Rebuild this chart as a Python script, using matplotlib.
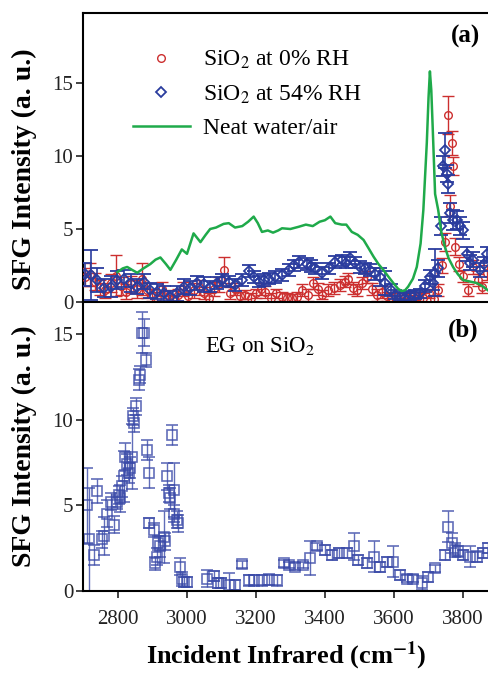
import matplotlib
matplotlib.use("Agg")
import matplotlib.pyplot as plt
from matplotlib.lines import Line2D

# ---------------- data ----------------
# Neat water/air (green line), panel (a)
water_x = [2800, 2815, 2828, 2842, 2857, 2875, 2895, 2910, 2924, 2940, 2953, 2970, 2986,
           3001, 3020, 3040, 3055, 3068, 3085, 3107, 3122, 3140, 3161, 3178, 3194, 3206,
           3218, 3235, 3250, 3265, 3276, 3300, 3324, 3345, 3365, 3385, 3400, 3416, 3430,
           3449, 3462, 3478, 3495, 3512, 3526, 3541, 3555, 3569, 3585, 3598, 3612, 3622,
           3632, 3641, 3655, 3666, 3677, 3685, 3695, 3700, 3704, 3708, 3712, 3719, 3728,
           3737, 3747, 3758, 3771, 3785, 3800, 3820, 3839, 3855, 3872]
water_y = [2.05, 2.3, 2.4, 2.2, 2.0, 2.3, 2.6, 2.9, 3.05, 2.6, 2.2, 2.9, 3.6,
           3.3, 4.7, 4.1, 4.6, 5.0, 5.1, 5.35, 5.4, 5.1, 5.2, 5.5, 5.85, 5.4,
           4.8, 4.9, 4.75, 4.9, 5.05, 5.0, 5.15, 5.3, 5.2, 5.5, 5.6, 5.85, 5.4,
           5.3, 5.3, 4.8, 4.6, 4.25, 3.7, 3.1, 2.6, 2.2, 1.7, 1.3, 0.9, 0.75,
           0.8, 1.05, 1.6, 2.4, 4.0, 6.3, 10.9, 14.0, 15.8, 14.5, 12.0, 7.4, 6.3,
           4.8, 3.8, 3.0, 2.4, 1.9, 1.5, 1.4, 1.3, 1.1, 0.8]

# SiO2 at 0% RH (red circles)
rh0_x = [2705, 2720, 2735, 2750, 2765, 2780, 2795, 2810, 2825, 2840, 2855, 2870, 2885,
         2900, 2915, 2930, 2945, 2960, 2975, 2990, 3005, 3020, 3035, 3050, 3065, 3080,
         3095, 3108, 3125, 3140, 3155, 3170, 3185, 3200, 3215, 3228, 3245, 3260, 3275,
         3290, 3305, 3320, 3335, 3350, 3367, 3380, 3392, 3410, 3425, 3444, 3458, 3468,
         3480, 3493, 3508, 3521, 3535, 3550, 3565, 3580, 3595, 3610, 3625, 3640, 3655,
         3670, 3685, 3700, 3715, 3728, 3740, 3748, 3755, 3762, 3768, 3772, 3778, 3788,
         3800, 3815, 3828, 3842, 3855, 3870]
rh0_y = [1.7, 1.9, 1.4, 1.0, 0.8, 1.3, 1.8, 1.1, 0.7, 1.2, 0.9, 1.6, 0.8,
         0.5, 0.3, 0.9, 0.4, 0.2, 0.5, 0.9, 0.4, 0.8, 1.0, 0.6, 0.3, 0.9,
         1.2, 2.2, 0.6, 0.9, 0.4, 0.5, 0.3, 0.6, 0.9, 0.7, 0.3, 0.6, 0.35,
         0.3, 0.25, 0.35, 0.8, 0.5, 1.3, 0.9, 0.5, 0.8, 0.95, 1.15, 1.4, 1.6,
         0.95, 0.8, 1.3, 1.7, 0.9, 0.5, 0.7, 0.4, 0.3, 0.2, 0.1, 0.3, 0.2,
         0.4, 0.3, 0.6, 0.2, 0.8, 2.5, 4.1, 12.8, 6.6, 10.9, 9.3, 3.8, 2.6,
         1.8, 0.8, 2.4, 1.5, 1.0, 2.0]
rh0_err = [0.6, 0.8, 0.6, 0.5, 0.5, 0.6, 1.4, 0.6, 0.5, 0.6, 0.6, 1.1, 0.5,
           0.4, 0.4, 0.5, 0.4, 0.3, 0.4, 0.5, 0.4, 0.5, 0.5, 0.4, 0.3, 0.5,
           0.5, 0.9, 0.4, 0.4, 0.3, 0.3, 0.3, 0.3, 0.4, 0.4, 0.3, 0.3, 0.3,
           0.3, 0.3, 0.3, 0.4, 0.4, 0.4, 0.4, 0.3, 0.4, 0.4, 0.4, 0.4, 0.4,
           0.4, 0.4, 0.4, 0.4, 0.4, 0.4, 0.4, 0.3, 0.3, 0.3, 0.2, 0.3, 0.3,
           0.3, 0.3, 0.3, 0.3, 0.4, 0.5, 0.6, 1.3, 0.7, 0.8, 0.6, 0.6, 0.5,
           0.4, 0.4, 0.5, 0.4, 0.4, 0.5]

# SiO2 at 54% RH (blue diamonds)
rh54_x = [2707, 2722, 2741, 2760, 2780, 2799, 2818, 2838, 2857, 2876, 2895, 2914, 2934,
          2953, 2972, 2991, 3011, 3030, 3049, 3069, 3088, 3102, 3122, 3141, 3160, 3180,
          3195, 3209, 3224, 3238, 3257, 3276, 3295, 3310, 3324, 3348, 3360, 3372, 3392,
          3411, 3430, 3449, 3460, 3473, 3488, 3502, 3516, 3531, 3545, 3560, 3575, 3590,
          3604, 3618, 3632, 3646, 3660, 3675, 3690, 3704, 3712, 3719, 3728, 3736, 3743,
          3748, 3753, 3757, 3762, 3770, 3781, 3790, 3800, 3810, 3820, 3829, 3848, 3860,
          3868]
rh54_y = [1.9, 1.85, 1.5, 0.95, 1.05, 1.5, 1.6, 1.3, 1.05, 1.4, 0.8, 0.7, 0.6,
          0.35, 0.6, 1.05, 0.95, 1.3, 1.2, 1.05, 1.3, 1.5, 1.4, 1.15, 1.5, 2.1,
          1.7, 1.4, 1.5, 1.6, 1.7, 1.85, 2.2, 2.5, 2.75, 2.6, 2.45, 2.3, 2.0,
          2.3, 2.75, 2.85, 2.7, 3.0, 2.7, 2.4, 2.3, 2.2, 1.9, 1.7, 1.3, 0.8,
          0.5, 0.35, 0.3, 0.45, 0.5, 0.6, 1.1, 1.7, 1.3, 2.0, 2.3, 5.2, 9.3,
          10.4, 8.8, 8.1, 6.1, 5.6, 5.6, 5.2, 4.9, 3.3, 2.7, 2.9, 2.2, 2.6,
          3.3]
rh54_err = [0.8, 1.7, 0.8, 0.6, 0.7, 0.6, 0.6, 0.6, 0.5, 0.5, 0.5, 0.5, 0.5,
            0.4, 0.5, 0.5, 0.5, 0.5, 0.5, 0.4, 0.4, 0.4, 0.4, 0.4, 0.4, 0.4,
            0.4, 0.4, 0.4, 0.4, 0.4, 0.4, 0.4, 0.4, 0.4, 0.4, 0.4, 0.4, 0.4,
            0.4, 0.4, 0.4, 0.4, 0.4, 0.4, 0.4, 0.4, 0.4, 0.4, 0.6, 0.8, 0.4,
            0.3, 0.3, 0.3, 0.3, 0.3, 0.3, 0.4, 0.5, 0.5, 1.6, 0.6, 0.6, 0.7,
            1.2, 0.6, 0.6, 0.7, 0.7, 0.6, 0.6, 0.6, 0.5, 0.5, 0.5, 0.5, 0.5,
            0.5]

# EG on SiO2 (squares), panel (b)
eg_x = [2712, 2717, 2732, 2741, 2756, 2760, 2770, 2780, 2789, 2799, 2804, 2807, 2813,
        2818, 2823, 2828, 2833, 2837, 2842, 2845, 2847, 2852, 2861, 2864, 2871, 2876,
        2881, 2886, 2890, 2892, 2905, 2907, 2914, 2918, 2923, 2934, 2937, 2943, 2948,
        2952, 2958, 2962, 2964, 2972, 2976, 2982, 2986, 2991, 3001, 3059, 3078, 3092,
        3098, 3122, 3141, 3161, 3180, 3194, 3218, 3238, 3262, 3281, 3295, 3315, 3338,
        3358, 3377, 3401, 3420, 3440, 3464, 3483, 3497, 3521, 3541, 3560, 3579, 3598,
        3618, 3637, 3656, 3680, 3699, 3719, 3747, 3757, 3767, 3776, 3786, 3800, 3820,
        3839, 3858, 3872]
eg_y = [5.0, 3.0, 2.1, 5.85, 3.0, 3.2, 4.5, 5.2, 3.85, 5.2, 5.6, 5.4, 6.1,
        6.7, 7.85, 7.4, 6.9, 7.2, 7.85, 10.2, 9.8, 10.8, 12.35, 12.65, 15.1, 15.1,
        13.5, 8.25, 6.9, 3.95, 3.55, 1.6, 2.0, 2.8, 2.6, 3.15, 2.9, 6.7, 5.7,
        5.4, 9.1, 5.9, 4.5, 4.15, 3.95, 1.4, 0.7, 0.5, 0.5, 0.7, 0.85, 0.45,
        0.45, 0.35, 0.35, 1.55, 0.6, 0.6, 0.6, 0.65, 0.6, 1.6, 1.5, 1.4, 1.5,
        1.9, 2.6, 2.4, 2.1, 2.2, 2.2, 2.6, 1.8, 1.6, 2.0, 1.4, 1.7, 1.7,
        0.9, 0.7, 0.7, 0.45, 0.8, 1.3, 2.1, 3.75, 2.8, 2.4, 2.3, 2.1, 2.0,
        2.0, 2.2, 2.5]
eg_err = [2.2, 3.0, 0.6, 0.7, 0.5, 1.1, 0.8, 0.5, 0.5, 0.4, 0.5, 0.8, 0.6,
          1.5, 0.8, 0.6, 0.6, 0.6, 1.9, 0.5, 0.5, 0.5, 0.6, 0.5, 1.2, 0.8,
          0.4, 0.6, 0.9, 0.3, 0.4, 0.4, 0.5, 0.4, 0.6, 1.5, 0.5, 0.8, 0.5,
          0.6, 0.6, 1.6, 0.5, 0.5, 0.5, 0.5, 0.4, 0.3, 0.3, 0.5, 0.3, 0.3,
          0.3, 0.7, 0.3, 0.2, 0.3, 0.3, 0.3, 0.3, 0.3, 0.2, 0.2, 0.2, 0.2,
          1.0, 0.2, 0.3, 0.3, 0.3, 0.3, 0.8, 0.3, 0.3, 0.9, 0.3, 0.3, 0.9,
          0.3, 0.2, 0.2, 0.4, 0.3, 0.2, 0.3, 0.9, 0.6, 0.4, 0.3, 0.3, 0.6,
          0.3, 0.3, 0.3]

x_ticks = [2800, 3000, 3200, 3400, 3600, 3800]
y_ticks = [0, 5, 10, 15]

# ---------------- style ----------------
plt.rcParams['font.family'] = ['Liberation Serif', 'DejaVu Serif']
plt.rcParams['mathtext.fontset'] = 'stix'

RED = '#cc2f2f'
BLUE = '#2a3c9e'
GREEN = '#1faa4a'
SQ = '#3a4aa8'

fig = plt.figure(figsize=(4.89, 6.73), dpi=100)
ax1 = fig.add_axes([0.1697, 0.5513, 0.8303, 0.4294])
ax2 = fig.add_axes([0.1697, 0.1223, 0.8303, 0.4290], sharex=ax1)

# panel (a)
ax1.errorbar(rh0_x, rh0_y, yerr=rh0_err, fmt='o', color=RED, mfc='none', mec=RED,
             ms=5.5, mew=1.0, elinewidth=1.0, capsize=4.5, capthick=1.0, zorder=3)
ax1.errorbar(rh54_x, rh54_y, yerr=rh54_err, fmt='D', color=BLUE, mfc='none', mec=BLUE,
             ms=4.8, mew=1.3, elinewidth=1.2, capsize=5, capthick=1.3, zorder=4)
ax1.plot(water_x, water_y, color=GREEN, lw=1.8, zorder=5)

handles = [Line2D([], [], ls='none', marker='o', mfc='none', mec=RED, ms=5.5, mew=1.0),
           Line2D([], [], ls='none', marker='D', mfc='none', mec=BLUE, ms=4.8, mew=1.3),
           Line2D([], [], color=GREEN, lw=1.8)]
labels = ['SiO$_2$ at 0% RH', 'SiO$_2$ at 54% RH', 'Neat water/air']
ax1.legend(handles, labels, loc='upper left', bbox_to_anchor=(0.123, 0.875),
           frameon=False, fontsize=17, handlelength=2.4, handletextpad=0.55,
           labelspacing=0.5, borderaxespad=0, borderpad=0)
ax1.text(0.978, 0.958, '(a)', transform=ax1.transAxes, ha='right', va='top',
         fontsize=18, fontweight='bold')

ax1.set_ylim(0, 19.8)
ax1.set_yticks(y_ticks)
ax1.tick_params(axis='x', which='both', bottom=False, labelbottom=False)

# panel (b)
ax2.errorbar(eg_x, eg_y, yerr=eg_err, fmt='s', color=SQ, mfc='none', mec=SQ,
             ms=7.5, mew=1.2, elinewidth=1.0, capsize=4.5, capthick=1.0, alpha=0.8)
ax2.text(0.30, 0.827, 'EG on SiO$_2$', transform=ax2.transAxes, ha='left', va='baseline',
         fontsize=16.5)
ax2.text(0.975, 0.944, '(b)', transform=ax2.transAxes, ha='right', va='top',
         fontsize=18, fontweight='bold')
ax2.set_ylim(0, 16.9)
ax2.set_yticks(y_ticks)
ax2.set_xlim(2700, 3875)
ax2.set_xticks(x_ticks)
ax2.set_xlabel('Incident Infrared (cm$^{\\mathbf{-1}}$)', fontsize=19, fontweight='bold')
ax2.xaxis.set_label_coords(0.5, -0.168)

for ax in (ax1, ax2):
    ax.set_ylabel('SFG Intensity (a. u.)', fontsize=20, fontweight='bold')
    ax.tick_params(axis='both', direction='out', length=5, width=1.2, labelsize=15,
                   colors='#222222', labelcolor='#222222')
    ax.tick_params(axis='x', pad=9)
    ax.tick_params(axis='y', pad=2)
    ax.spines['right'].set_visible(False)
    for s in ('left', 'top', 'bottom'):
        ax.spines[s].set_linewidth(1.5)
ax1.spines['bottom'].set_visible(False)
ax1.yaxis.set_label_coords(-0.113, 0.46)
ax2.yaxis.set_label_coords(-0.113, 0.5)

fig.savefig('out.png', dpi=100)
